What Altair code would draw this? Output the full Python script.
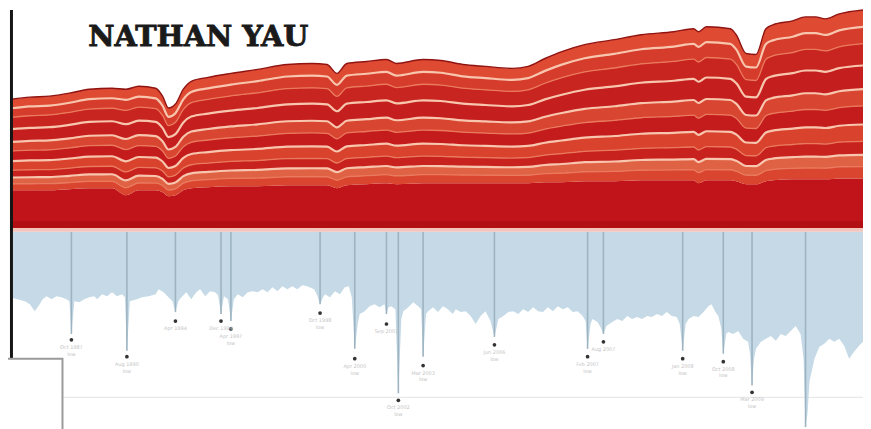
import altair as alt
import pandas as pd

# ---------------- data ----------------
# time index across the cover (red stacked band)
t_red = [12, 30, 50, 70, 90, 113, 127, 140, 157, 164, 170, 177, 185, 193, 210, 233, 260, 290, 315, 330,
         340, 350, 370, 390, 400, 427, 445, 467, 490, 517, 533, 550, 567, 590, 620, 647, 680, 700, 705, 713,
         737, 743, 753, 763, 773, 780, 800, 813, 823, 833, 847, 871]
# upper edge of the whole red stack
top_red = [132, 134, 135, 138, 142, 143, 142, 145, 143, 135, 123, 127, 142, 150, 154, 158, 162, 167, 168, 167,
           158, 168, 170, 172, 168, 172, 171, 167, 165, 163, 165, 173, 180, 187, 192, 197, 200, 203, 200, 205,
           203, 197, 178, 177, 203, 207, 211, 215, 215, 213, 218, 222]
# upper edge of the solid dark base band
base_red = [40, 40, 40, 41, 42, 42, 35, 40, 40, 38, 34, 35, 40, 42, 43, 44, 44, 45, 45, 45,
            42, 45, 46, 47, 46, 47, 47, 47, 47, 47, 47, 48, 48, 49, 49, 50, 50, 50, 47, 50,
            50, 49, 46, 46, 49, 50, 51, 51, 51, 51, 52, 52]
red_floor = 2
# share of the band (base -> top) at which each stripe boundary sits
layer_shares = [0.0, 0.07, 0.14, 0.22, 0.32, 0.43, 0.53, 0.67, 0.80, 0.90, 1.0]
layer_fills = ["#d9452f", "#e06245", "#c8221f", "#d9432e", "#c41c1d",
               "#d84530", "#c51e1e", "#c92520", "#d63c2b", "#df4a32"]
boundary_kind = ["mid", "light", "mid", "light", "mid", "light", "light", "mid", "light"]

# drawdown (depth below the red band) of the blue band's lower edge
t_blue = [10, 25, 30, 35, 40, 43, 47, 52, 57, 62, 67, 70, 72, 75, 80, 85, 90, 95, 98, 103,
          108, 113, 118, 123, 126, 128, 131, 138, 143, 150, 157, 160, 165, 170, 174, 177, 180, 183, 188, 193,
          198, 202, 207, 212, 217, 220, 223, 226, 230, 233, 236, 240, 245, 250, 255, 260, 265, 270, 275, 280,
          285, 290, 295, 300, 305, 310, 317, 320, 323, 326, 328, 333, 338, 343, 348, 352, 355, 358, 361, 363,
          368, 373, 378, 383, 388, 390, 392, 395, 399, 402, 405, 407, 412, 417, 422, 425, 427, 430, 432, 437,
          442, 447, 452, 457, 460, 465, 470, 475, 480, 485, 490, 495, 499, 503, 508, 513, 518, 523, 528, 533,
          538, 543, 548, 553, 558, 563, 568, 573, 578, 583, 588, 591, 593, 596, 598, 603, 606, 609, 612, 618,
          623, 628, 633, 638, 643, 648, 653, 658, 663, 668, 673, 678, 683, 686, 689, 692, 695, 700, 705, 710,
          715, 718, 722, 725, 728, 730, 733, 735, 740, 745, 750, 755, 757, 759, 761, 763, 768, 773, 778, 783,
          788, 793, 798, 803, 808, 811, 813, 815, 817, 822, 827, 832, 837, 842, 847, 852, 857, 862, 867, 871]
drawdown = [68, 72, 75, 82, 75, 70, 67, 70, 67, 68, 70, 72, 105, 72, 73, 70, 68, 67, 70, 65,
            67, 63, 67, 65, 68, 122, 72, 70, 68, 67, 65, 60, 63, 68, 72, 83, 72, 68, 63, 70,
            63, 60, 67, 62, 63, 66, 85, 67, 70, 92, 70, 65, 68, 63, 62, 63, 60, 63, 58, 62,
            57, 60, 57, 60, 56, 57, 60, 66, 75, 68, 65, 68, 62, 65, 58, 57, 68, 120, 95, 85,
            82, 77, 75, 78, 75, 85, 78, 77, 80, 165, 90, 82, 78, 73, 77, 80, 128, 85, 82, 78,
            83, 77, 80, 85, 80, 83, 82, 87, 95, 87, 82, 92, 108, 90, 87, 83, 82, 85, 80, 83,
            78, 82, 83, 78, 82, 77, 80, 78, 83, 82, 87, 92, 120, 95, 90, 93, 98, 105, 97, 93,
            90, 92, 87, 90, 88, 90, 87, 88, 85, 87, 83, 87, 88, 95, 122, 95, 90, 87, 88, 83,
            77, 75, 83, 87, 100, 125, 105, 103, 105, 102, 110, 113, 125, 157, 130, 120, 113, 110, 107, 112,
            105, 107, 102, 97, 105, 130, 199, 185, 153, 130, 118, 115, 110, 113, 110, 117, 130, 123, 117, 113]
blue_top = -2

# spikes with their marker dots (depths below the red band)
spike_t = [72, 128, 177, 223, 233, 323, 358, 390, 402, 427, 499, 593, 609, 689, 730, 759, 813]
spike_depth = [105, 122, 83, 85, 92, 75, 120, 85, 165, 128, 108, 120, 105, 122, 125, 157, 199]
dot_t = [72, 128, 177, 223, 233, 323, 358, 390, 402, 427, 499, 593, 609, 689, 730, 759]
dot_depth = [111, 128, 92, 92, 100, 84, 130, 95, 172, 137, 116, 128, 113, 130, 133, 164]
dot_labels = ["Oct 1987\nlow", "Aug 1990\nlow", "Apr 1994", "Dec 1994", "Apr 1997\nlow",
              "Oct 1998\nlow", "Apr 2000\nlow", "Sep 2001", "Oct 2002\nlow", "Mar 2003\nlow",
              "Jun 2006\nlow", "Feb 2007\nlow", "Aug 2007", "Jan 2008\nlow", "Oct 2008\nlow",
              "Mar 2009\nlow"]

title_text = "NATHAN YAU"

# ---------------- build tables ----------------
YS = alt.Scale(domain=[-199, 222], nice=False, zero=False)
X = alt.X("t:Q", scale=alt.Scale(domain=[8, 871], nice=False, zero=False), axis=None)
Y = alt.Y("v:Q", scale=YS, axis=None)


def yf(field):
    return alt.Y(field, scale=YS, axis=None)


band_rows = []
line_rows = []
for i, t in enumerate(t_red):
    b, tp = base_red[i], top_red[i]
    edges = [b + s * (tp - b) for s in layer_shares]
    for k in range(len(layer_fills)):
        band_rows.append({"t": t, "v": edges[k], "v2": edges[k + 1], "layer": f"L{k:02d}"})
    for k in range(1, len(layer_shares) - 1):
        line_rows.append({"t": t, "v": edges[k], "b": k, "kind": boundary_kind[k - 1]})
bands = pd.DataFrame(band_rows)
lines = pd.DataFrame(line_rows)
red_df = pd.DataFrame({"t": t_red, "top": top_red, "base": base_red, "floor": [red_floor] * len(t_red)})
blue_df = pd.DataFrame({"t": t_blue, "low": [-d for d in drawdown], "top": [blue_top] * len(t_blue)})
spike_df = pd.DataFrame({"t": spike_t, "low": [-d for d in spike_depth], "top": [blue_top] * len(spike_t)})
dot_df = pd.DataFrame({"t": dot_t, "v": [-d for d in dot_depth], "label": dot_labels})

base_area = alt.Chart(red_df).mark_area(color="#c0141a", interpolate="monotone").encode(
    x=X, y=yf("floor:Q"), y2="base:Q")
bottom_shade = alt.Chart(red_df).mark_area(color="#a80c12", opacity=0.6).encode(
    x=X, y=yf("floor:Q"), y2=alt.datum(9))

band_area = alt.Chart(bands).mark_area(interpolate="monotone").encode(
    x=X, y=Y, y2="v2:Q",
    color=alt.Color("layer:N", scale=alt.Scale(domain=[f"L{k:02d}" for k in range(len(layer_fills))],
                                               range=layer_fills), legend=None))
mid_lines = alt.Chart(lines).transform_filter(alt.datum.kind == "mid").mark_line(
    color="#ea7a5e", strokeWidth=1.3, interpolate="monotone").encode(x=X, y=Y, detail="b:N")
light_lines = alt.Chart(lines).transform_filter(alt.datum.kind == "light").mark_line(
    color="#f8c6ae", strokeWidth=2.2, interpolate="monotone").encode(x=X, y=Y, detail="b:N")
top_line = alt.Chart(red_df).mark_line(color="#8f1412", strokeWidth=1.4, interpolate="monotone").encode(
    x=X, y=yf("top:Q"))

sep = alt.Chart(red_df).mark_area(color="#f2c4bc").encode(
    x=X, y=yf("floor:Q"), y2=alt.datum(-2))

blue_area = alt.Chart(blue_df).mark_area(color="#c5dae6").encode(
    x=X, y=yf("top:Q"), y2="low:Q")
spikes = alt.Chart(spike_df).mark_rule(color="#9db3c1", strokeWidth=1.6).encode(
    x=X, y=yf("top:Q"), y2="low:Q")
guide = alt.Chart(pd.DataFrame({"t": [63], "t2": [871], "v": [-169]})).mark_rule(
    color="#e4e4e4", strokeWidth=1).encode(x=X, x2="t2:Q", y=Y)
dots = alt.Chart(dot_df).mark_circle(color="#333333", size=14, opacity=1).encode(x=X, y=Y)
dot_text = alt.Chart(dot_df).mark_text(fontSize=5, color="#c4c4c4", baseline="top", align="center",
                                       dy=5, lineBreak="\n", font="DejaVu Sans").encode(
    x=X, y=Y, text="label:N")

frame = alt.Chart(pd.DataFrame({"t": [11.5], "v": [222], "v2": [-130]})).mark_rule(
    color="#151515", strokeWidth=3).encode(x=X, y=Y, y2="v2:Q")
box = alt.Chart(pd.DataFrame({"t": [2], "t2": [63], "v": [-130], "v2": [-210]})).mark_rect(
    fill="white", stroke="#9a9a9a", strokeWidth=2).encode(x=X, x2="t2:Q", y=Y, y2="v2:Q")

title = alt.Chart(pd.DataFrame({"t": [89], "v": [186], "txt": [title_text]})).mark_text(
    font="DejaVu Serif", fontWeight="bold", fontSize=29, color="#1a1a1a", align="left",
    stroke="#1a1a1a", strokeWidth=0.9, baseline="alphabetic").encode(x=X, y=Y, text="txt:N")

chart = alt.layer(
    guide, blue_area, spikes, sep, base_area, band_area, mid_lines, light_lines, top_line, bottom_shade,
    dots, dot_text, frame, box, title
).properties(
    width=863, height=421, padding=0,
    autosize=alt.AutoSizeParams(type="none"),
    background="white"
).configure_view(stroke=None)

chart.save("out.html", embed_options={"renderer": "svg", "actions": False})
